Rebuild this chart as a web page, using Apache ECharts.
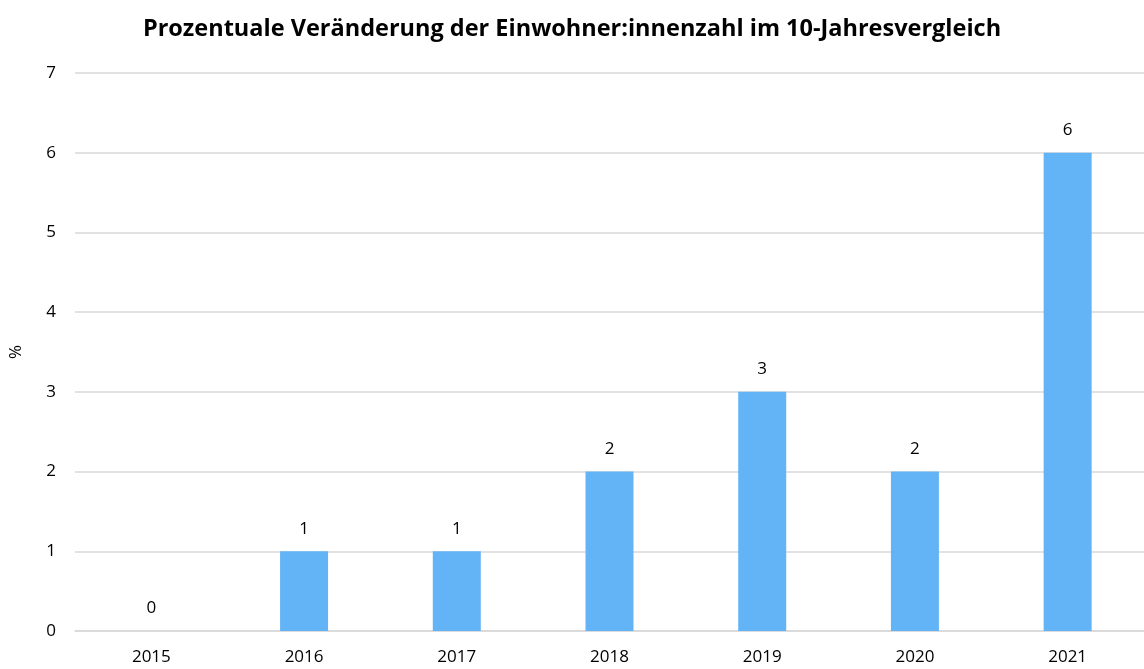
<!DOCTYPE html>
<html>
<head>
<meta charset="utf-8">
<script src="https://cdn.jsdelivr.net/npm/echarts@6/dist/echarts.min.js"></script>
<style>
  html, body { margin: 0; padding: 0; background: #fff; }
  #chart { width: 1144px; height: 669px; }
</style>
</head>
<body>
<div id="chart"></div>
<script>
// Data
var years = ["2015", "2016", "2017", "2018", "2019", "2020", "2021"];
var changePct = [0, 1, 1, 2, 3, 2, 6];
var yTicks = [0, 1, 2, 3, 4, 5, 6, 7];

var font = "'Open Sans', 'Noto Sans', sans-serif";

var chart = echarts.init(document.getElementById("chart"));

chart.setOption({
	animation: false,
	title: {
		text: "Prozentuale Veränderung der Einwohner:innenzahl im 10-Jahresvergleich",
		left: "center",
		top: 12,
		textStyle: { fontFamily: font, fontSize: 23.5, fontWeight: "bold", color: "#000" }
	},
	grid: { left: 71, top: 73, width: 1076, height: 558 },
	xAxis: {
		type: "category",
		data: years,
		axisLine: { lineStyle: { color: "#d9d9d9", width: 1.5 } },
		axisTick: { show: false },
		axisLabel: { margin: 18, fontFamily: font, fontSize: 17, color: "#000" }
	},
	yAxis: {
		type: "value",
		name: "%",
		nameLocation: "middle",
		nameGap: 50,
		nameTextStyle: { fontFamily: font, fontSize: 17, color: "#000" },
		min: yTicks[0],
		max: yTicks[yTicks.length - 1],
		interval: 1,
		axisLine: { show: false },
		axisTick: { show: false },
		axisLabel: { margin: 19, fontFamily: font, fontSize: 17, color: "#000" },
		splitLine: { lineStyle: { color: "#d9d9d9", width: 1.5 } }
	},
	series: [{
		type: "bar",
		data: changePct,
		barWidth: 48,
		itemStyle: { color: "#63b4f6" },
		label: {
			show: true,
			position: "top",
			distance: 14,
			fontFamily: font,
			fontSize: 17,
			color: "#000"
		}
	}]
});
</script>
</body>
</html>
